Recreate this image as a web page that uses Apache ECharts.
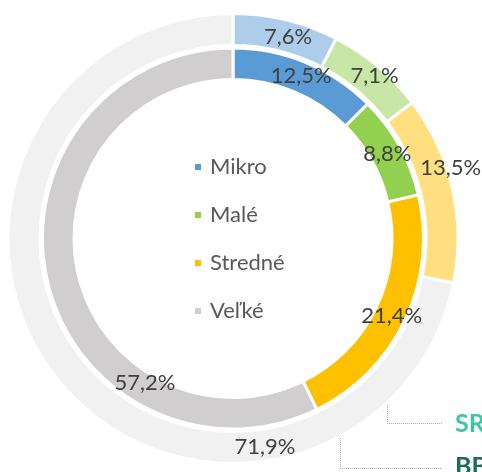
<!DOCTYPE html>
<html>
<head>
<meta charset="utf-8">
<script src="https://cdn.jsdelivr.net/npm/echarts@6/dist/echarts.min.js"></script>
<style>html,body{margin:0;padding:0;background:#fff;}#c{width:482px;height:472px;}</style>
</head>
<body>
<div id="c"></div>
<script>
const categories = ['Mikro', 'Malé', 'Stredné', 'Veľké'];
const srValues = [7.6, 7.1, 13.5, 71.9];
const bbValues = [12.5, 8.8, 21.4, 57.2];
const innerColors = ['#5B9BD5', '#92D050', '#FFC000', '#D0CECE'];
const outerColors = ['#ADCDEA', '#C8E7A7', '#FFDF80', '#F1F1F1'];
const srOffsets = [[5, 4], [5, 0], [11, -23], [196, 74]];
const bbOffsets = [[0, 2], [-1, 2], [-2, 1], [85, 104]];

const FONT = 'Lato';
const cx = 233, cy = 238.5;

function fmt(p) { return p.value.toFixed(1).replace('.', ',') + '%'; }

const labelBase = {
  show: true, position: 'inside', formatter: fmt,
  color: '#404040', fontFamily: FONT, fontSize: 22
};

const chart = echarts.init(document.getElementById('c'), null, {renderer: 'canvas'});
chart.setOption({
  animation: false,
  backgroundColor: '#ffffff',
  legend: {
    orient: 'vertical',
    left: 188, top: 151,
    data: categories.map((n, i) => ({name: n, itemStyle: {color: innerColors[i]}})),
    icon: 'rect', itemWidth: 8, itemHeight: 8, itemGap: 26,
    textStyle: {color: '#595959', fontFamily: FONT, fontSize: 22, lineHeight: 22, padding: [0, 0, 0, 3]}
  },
  series: [
    {
      name: 'SR', type: 'pie', center: [cx, cy], radius: [193, 225],
      startAngle: 90, clockwise: true, avoidLabelOverlap: false,
      itemStyle: {borderColor: '#fff', borderWidth: 3},
      label: labelBase, labelLine: {show: false}, emphasis: {disabled: true},
      data: categories.map((n, i) => ({name: n, value: srValues[i],
        itemStyle: {color: outerColors[i]}, label: {offset: srOffsets[i]}}))
    },
    {
      name: 'BB', type: 'pie', center: [cx, cy], radius: [159, 190.5],
      startAngle: 90, clockwise: true, avoidLabelOverlap: false,
      itemStyle: {borderColor: '#fff', borderWidth: 3},
      label: labelBase, labelLine: {show: false}, emphasis: {disabled: true},
      data: categories.map((n, i) => ({name: n, value: bbValues[i],
        itemStyle: {color: innerColors[i]}, label: {offset: bbOffsets[i]}}))
    }
  ],
  graphic: [
    {type: 'polyline', shape: {points: [[387.5, 373], [387.5, 423.5], [442, 423.5]]},
      style: {stroke: '#A6A6A6', lineWidth: 1, lineDash: [1, 1], fill: null}},
    {type: 'polyline', shape: {points: [[340.5, 378], [340.5, 468.5], [442, 468.5]]},
      style: {stroke: '#A6A6A6', lineWidth: 1, lineDash: [1, 1], fill: null}},
    {type: 'text', x: 455, y: 424, style: {text: 'SR', fill: '#3DC6A6', font: 'bold 25px Lato', textVerticalAlign: 'middle'}},
    {type: 'text', x: 455, y: 467, style: {text: 'BB', fill: '#1E6B5E', font: 'bold 25px Lato', textVerticalAlign: 'middle'}}
  ]
});
</script>
</body>
</html>
